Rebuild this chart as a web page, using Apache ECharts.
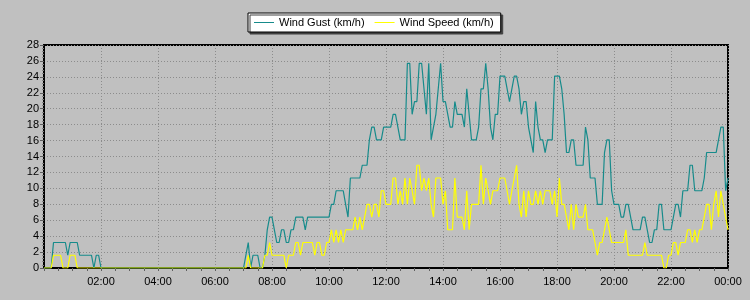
<!DOCTYPE html>
<html>
<head>
<meta charset="utf-8">
<script src="https://cdn.jsdelivr.net/npm/echarts@6/dist/echarts.min.js"></script>
<style>html,body{margin:0;padding:0;background:#c0c0c0;}#c{width:750px;height:300px;}</style>
</head>
<body>
<div id="c"></div>
<script>
// 5-minute samples from 00:00 to 24:00 (289 samples)
const stepMinutes = 5;
const seriesNames = ['Wind Gust (km/h)', 'Wind Speed (km/h)'];
const yTicks = [0,2,4,6,8,10,12,14,16,18,20,22,24,26,28];
const xTickLabels = ['', '02:00','04:00','06:00','08:00','10:00','12:00','14:00','16:00','18:00','20:00','22:00','00:00'];

const windGust = [
  0,0,0,0,3.2,3.2,3.2,3.2,3.2,3.2,1.6,3.2,
  3.2,3.2,3.2,1.6,1.6,1.6,1.6,1.6,1.6,0,1.6,1.6,
  0,0,0,0,0,0,0,0,0,0,0,0,
  0,0,0,0,0,0,0,0,0,0,0,0,
  0,0,0,0,0,0,0,0,0,0,0,0,
  0,0,0,0,0,0,0,0,0,0,0,0,
  0,0,0,0,0,0,0,0,0,0,0,0,
  0,1.6,3.2,0,1.6,1.6,1.6,0,0,1.6,4.8,6.4,
  6.4,4.8,3.2,3.2,4.8,4.8,3.2,3.2,4.8,4.8,6.4,6.4,
  6.4,6.4,4.8,6.4,6.4,6.4,6.4,6.4,6.4,6.4,6.4,6.4,
  6.4,8,8,9.7,9.7,9.7,9.7,8,6.4,11.3,11.3,11.3,
  11.3,11.3,12.9,12.9,12.9,16.1,17.7,17.7,16.1,16.1,16.1,17.7,
  17.7,17.7,17.7,19.3,19.3,17.7,16.1,16.1,16.1,25.7,25.7,19.3,
  20.9,20.9,25.7,25.7,22.5,19.3,25.7,16.1,17.7,19.3,22.5,25.7,
  20.9,20.9,19.3,17.7,17.7,20.9,19.3,19.3,19.3,17.7,22.5,19.3,
  16.1,16.1,16.1,17.7,22.5,22.5,25.7,22.5,17.7,16.1,19.3,19.3,
  24.1,24.1,24.1,22.5,20.9,22.5,24.1,24.1,22.5,19.3,20.9,20.9,
  17.7,16.1,14.5,20.9,17.7,16.1,16.1,14.5,16.1,16.1,16.1,24.1,
  24.1,24.1,22.5,19.3,14.5,14.5,16.1,16.1,12.9,12.9,12.9,12.9,
  17.7,16.1,11.3,11.3,11.3,8,8,8,14.5,16.1,16.1,9.7,
  8,8,8,6.4,6.4,8,8,6.4,4.8,4.8,4.8,4.8,
  6.4,6.4,4.8,3.2,3.2,4.8,4.8,8,8,4.8,4.8,4.8,
  4.8,6.4,8,8,6.4,9.7,9.7,9.7,12.9,12.9,9.7,9.7,
  9.7,9.7,11.3,14.5,14.5,14.5,14.5,14.5,16.1,17.7,17.7,9.7,
  11.3
];

const windSpeed = [
  0,0,0,0,1.6,1.6,1.6,1.6,0,0,0,1.6,
  1.6,1.6,0,0,0,0,0,0,0,0,0,0,
  0,0,0,0,0,0,0,0,0,0,0,0,
  0,0,0,0,0,0,0,0,0,0,0,0,
  0,0,0,0,0,0,0,0,0,0,0,0,
  0,0,0,0,0,0,0,0,0,0,0,0,
  0,0,0,0,0,0,0,0,0,0,0,0,
  0,0,1.6,0,0,0,0,0,0,1.6,1.6,3.2,
  1.6,1.6,1.6,1.6,1.6,1.6,0,1.6,1.6,1.6,3.2,3.2,
  1.6,3.2,3.2,3.2,3.2,3.2,1.6,3.2,3.2,1.6,1.6,3.2,
  3.2,4.8,3.2,4.8,3.2,4.8,3.2,4.8,4.8,4.8,4.8,6.4,
  4.8,6.4,4.8,6.4,8,8,6.4,8,8,6.4,9.7,9.7,
  8,8,8,11.3,11.3,8,9.7,8,11.3,8,11.3,9.7,
  8,12.9,12.9,9.7,11.3,9.7,11.3,8,6.4,11.3,11.3,11.3,
  8,9.7,4.8,4.8,4.8,11.3,6.4,6.4,6.4,4.8,9.7,4.8,
  8,8,8,8,12.9,8,11.3,9.7,8,9.7,9.7,9.7,
  11.3,11.3,11.3,9.7,8,9.7,11.3,12.9,8,6.4,9.7,6.4,
  9.7,8,8,9.7,8,9.7,8,9.7,9.7,9.7,8,9.7,
  6.4,11.3,8,8,6.4,4.8,8,4.8,8,6.4,6.4,6.4,
  8,4.8,4.8,4.8,3.2,1.6,3.2,3.2,4.8,6.4,4.8,3.2,
  3.2,3.2,3.2,3.2,3.2,4.8,1.6,1.6,1.6,1.6,1.6,1.6,
  1.6,3.2,1.6,1.6,1.6,1.6,1.6,1.6,1.6,0,0,1.6,
  1.6,3.2,3.2,1.6,3.2,3.2,3.2,4.8,4.8,3.2,4.8,3.2,
  4.8,4.8,6.4,8,8,4.8,8,9.7,6.4,9.7,8,6.4,
  4.8
];

const toPairs = arr => arr.map((v, i) => [i * stepMinutes, v]);

const chart = echarts.init(document.getElementById('c'), null, {renderer: 'canvas'});
const font = 'Liberation Sans, Arial, sans-serif';
const gustColor = '#168b8b';
const speedColor = '#ffff00';
chart.setOption({
  backgroundColor: '#c0c0c0',
  animation: false,
  grid: {left: 44, right: 22, top: 45, bottom: 32, show: true, borderColor: '#000', borderWidth: 2, backgroundColor: 'transparent'},
  legend: {
    left: 248, top: 13,
    backgroundColor: '#fff', borderColor: '#000', borderWidth: 1,
    shadowColor: '#404040', shadowOffsetX: 2, shadowOffsetY: 2, shadowBlur: 0,
    padding: [3, 7, 3, 6], itemGap: 10, itemWidth: 20, itemHeight: 1,
    icon: 'rect',
    textStyle: {fontFamily: font, fontSize: 11, color: '#000', lineHeight: 13},
    data: [
      {name: seriesNames[0], itemStyle: {color: gustColor}},
      {name: seriesNames[1], itemStyle: {color: speedColor}}
    ]
  },
  xAxis: {
    type: 'value', min: 0, max: 1440, interval: 120,
    axisLine: {lineStyle: {color: '#000', width: 2}},
    axisTick: {show: true, length: 3, lineStyle: {color: '#606060'}},
    minorTick: {show: true, splitNumber: 4, length: 3, lineStyle: {color: '#606060'}},
    axisLabel: {fontFamily: font, fontSize: 11, color: '#000', margin: 8,
      formatter: v => xTickLabels[Math.round(v / 120)]},
    splitLine: {show: true, lineStyle: {color: '#8c8c8c', type: [1, 2], width: 1}}
  },
  yAxis: {
    type: 'value', min: 0, max: 28, interval: 2,
    axisLine: {show: true, lineStyle: {color: '#000', width: 2}},
    axisTick: {show: true, length: 4, lineStyle: {color: '#606060'}},
    minorTick: {show: true, splitNumber: 5, length: 2, lineStyle: {color: '#808080'}},
    axisLabel: {fontFamily: font, fontSize: 11, color: '#000', margin: 5,
      formatter: v => (yTicks.indexOf(v) >= 0 ? String(v) : '')},
    splitLine: {show: true, lineStyle: {color: '#8c8c8c', type: [1, 2], width: 1}}
  },
  series: [
    {name: seriesNames[0], type: 'line', data: toPairs(windGust), symbol: 'none', showSymbol: false,
      lineStyle: {color: gustColor, width: 1.2}, itemStyle: {color: gustColor}, z: 3},
    {name: seriesNames[1], type: 'line', data: toPairs(windSpeed), symbol: 'none', showSymbol: false,
      lineStyle: {color: speedColor, width: 1.2}, itemStyle: {color: speedColor}, z: 4}
  ]
});
</script>
</body>
</html>
